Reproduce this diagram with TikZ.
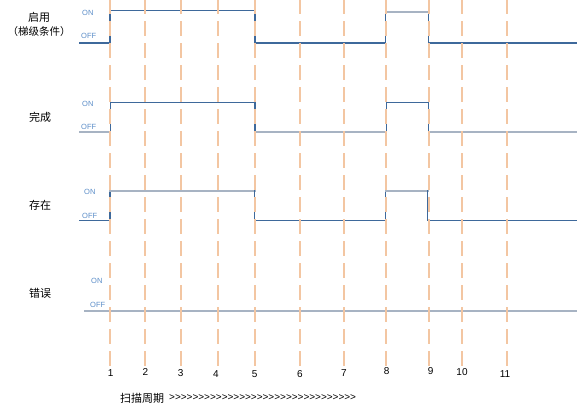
\documentclass[tikz,border=0pt]{standalone}
\usepackage{fontspec}
\setmainfont{Liberation Sans}
\newfontfamily\plainfont{Liberation Sans}
\newfontfamily\cjk{Noto Sans CJK SC}
\definecolor{gridorange}{RGB}{243,198,162}
\definecolor{sigblue}{RGB}{62,105,155}
\definecolor{siggray}{RGB}{167,179,195}
\definecolor{lblblue}{RGB}{91,141,200}
\begin{document}
\begin{tikzpicture}[x=1pt,y=-1pt,
  gridline/.style={draw=gridorange,line width=2pt,dash pattern=on 15pt off 7pt,dash phase=1pt},
  sig/.style={draw=sigblue,line width=1.3pt,line cap=rect},
  siggr/.style={draw=siggray,line width=1.6pt,line cap=rect},
  lvl/.style={font=\fontsize{7.5}{8}\selectfont,text=lblblue,inner sep=0,anchor=west},
  sname/.style={font=\cjk\fontsize{11}{13}\selectfont,inner sep=0},
  num/.style={font=\plainfont\fontsize{10}{12}\selectfont,inner sep=0}]
\useasboundingbox (0,0) rectangle (577,410);

% signal names
\node[sname] (n1) at (39,17) {启用};
\node[sname,font=\cjk\fontsize{10.5}{12}\selectfont] (n1b) at (39,32) {（梯级条件）};
\node[sname] (n2) at (40,117) {完成};
\node[sname] (n3) at (40,205) {存在};
\node[sname] (n4) at (40,293) {错误};

% level labels
\node[lvl] (on1) at (82,13) {ON};
\node[lvl] (off1) at (81,36) {OFF};
\node[lvl] (on2) at (82,104) {ON};
\node[lvl] (off2) at (81,127) {OFF};
\node[lvl] (on3) at (84,191.7) {ON};
\node[lvl] (off3) at (82,216) {OFF};
\node[lvl] (on4) at (91,280.7) {ON};
\node[lvl] (off4) at (90,305) {OFF};

% signal 1
\draw[sig] (80,43) -- (110,43) -- (110,10.5) -- (255,10.5) -- (255,43) -- (385.7,43) -- (385.7,12);
\draw[siggr] (385.7,12) -- (428.7,12);
\draw[sig] (428.7,12) -- (428.7,43) -- (577,43);
% signal 2
\draw[siggr] (80,131.7) -- (110.5,131.7);
\draw[sig] (110.5,131.7) -- (110.5,102.3) -- (255,102.3) -- (255,131.7);
\draw[siggr] (255,131.7) -- (386.3,131.7);
\draw[sig] (386.3,131.7) -- (386.3,102.3) -- (428.7,102.3) -- (428.7,131.7);
\draw[siggr] (428.7,131.7) -- (577,131.7);
% signal 3
\draw[sig] (80,220.3) -- (110,220.3) -- (110,190.7);
\draw[siggr] (110,190.7) -- (254.7,190.7);
\draw[sig] (254.7,190.7) -- (254.7,220.3) -- (385.7,220.3) -- (385.7,190.7);
\draw[siggr] (385.7,190.7) -- (427.7,190.7);
\draw[sig] (427.7,190.7) -- (427.7,220.3) -- (577,220.3);
% signal 4
\draw[siggr] (85,311) -- (577,311);

% scan grid
\foreach \x in {110,144.5,181,218,255,299.5,344,386,429,461.5,507}
  \draw[gridline] (\x,0) -- (\x,367);

% cycle numbers
\foreach \n/\x/\y in {1/110.7/373,2/145.5/372,3/180.7/373,4/216/374,5/254.7/374,6/300/374,7/344/373,8/386.7/371,9/430.7/371,10/462/372,11/505/374}
  \node[num] (c\n) at (\x,\y) {\n};

% axis caption
\node[sname,anchor=west] (scan) at (120,398) {扫描周期};
\node[num,anchor=west] (arrows) at (169,398) {>>>>>>>>>>>>>>>>>>>>>>>>>>>>>>>>};
\end{tikzpicture}
\end{document}
